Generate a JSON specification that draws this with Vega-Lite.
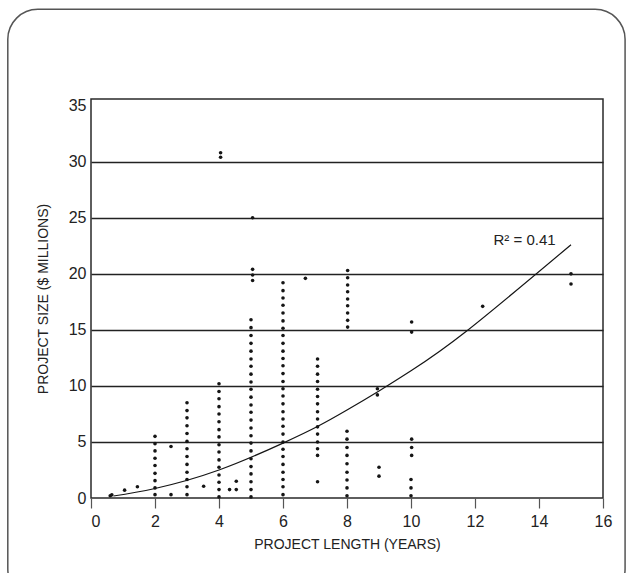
{
  "$schema": "https://vega.github.io/schema/vega-lite/v6.json",
  "width": 512,
  "height": 399,
  "autosize": {"type": "none"},
  "padding": {"left": 91, "top": 99, "right": 30, "bottom": 75},
  "background": "white",
  "config": {
    "view": {"stroke": "#2a2a2a", "strokeWidth": 1.5},
    "font": "Liberation Sans"
  },
  "datasets": {
    "trend": [
      {"x": 0.7, "y": 0.18}, {"x": 2, "y": 0.85}, {"x": 4, "y": 2.5}, {"x": 6, "y": 4.9},
      {"x": 7.09, "y": 6.4}, {"x": 8, "y": 7.85}, {"x": 9, "y": 9.55}, {"x": 10, "y": 11.35},
      {"x": 11.74, "y": 14.9}, {"x": 15, "y": 22.6}
    ]
  },
  "data": {
    "values": [
      {"x": 0.6, "y": 0.2}, {"x": 0.65, "y": 0.28}, {"x": 1.05, "y": 0.7}, {"x": 1.45, "y": 1.0},
      {"x": 2, "y": 5.5}, {"x": 2, "y": 4.85}, {"x": 2, "y": 4.2}, {"x": 2, "y": 3.55}, {"x": 2, "y": 2.9},
      {"x": 2, "y": 2.2}, {"x": 2, "y": 1.55}, {"x": 2, "y": 0.9}, {"x": 2, "y": 0.3},
      {"x": 2.5, "y": 4.6}, {"x": 2.5, "y": 0.3},
      {"x": 3, "y": 8.5}, {"x": 3, "y": 7.8}, {"x": 3, "y": 7.15}, {"x": 3, "y": 6.45}, {"x": 3, "y": 5.75},
      {"x": 3, "y": 5.05}, {"x": 3, "y": 4.4}, {"x": 3, "y": 3.7}, {"x": 3, "y": 3.0}, {"x": 3, "y": 2.3},
      {"x": 3, "y": 1.65}, {"x": 3, "y": 1.0}, {"x": 3, "y": 0.3},
      {"x": 3.52, "y": 1.05},
      {"x": 4, "y": 10.2}, {"x": 4, "y": 9.5}, {"x": 4, "y": 8.85}, {"x": 4, "y": 8.15}, {"x": 4, "y": 7.5},
      {"x": 4, "y": 6.8}, {"x": 4, "y": 6.1}, {"x": 4, "y": 5.45}, {"x": 4, "y": 4.75}, {"x": 4, "y": 4.1},
      {"x": 4, "y": 3.4}, {"x": 4, "y": 2.75}, {"x": 4, "y": 2.05}, {"x": 4, "y": 1.4}, {"x": 4, "y": 0.75},
      {"x": 4, "y": 0.1}, {"x": 4.05, "y": 30.4}, {"x": 4.05, "y": 30.8},
      {"x": 4.33, "y": 0.75}, {"x": 4.54, "y": 0.75}, {"x": 4.54, "y": 1.5},
      {"x": 5, "y": 15.9}, {"x": 5, "y": 15.2}, {"x": 5, "y": 14.5}, {"x": 5, "y": 13.8}, {"x": 5, "y": 13.1},
      {"x": 5, "y": 12.4}, {"x": 5, "y": 11.75}, {"x": 5, "y": 11.05}, {"x": 5, "y": 10.35}, {"x": 5, "y": 9.7},
      {"x": 5, "y": 9.0}, {"x": 5, "y": 8.3}, {"x": 5, "y": 7.65}, {"x": 5, "y": 6.95}, {"x": 5, "y": 6.25},
      {"x": 5, "y": 5.55}, {"x": 5, "y": 4.9}, {"x": 5, "y": 4.2}, {"x": 5, "y": 3.5}, {"x": 5, "y": 2.8},
      {"x": 5, "y": 2.15}, {"x": 5, "y": 1.45}, {"x": 5, "y": 0.75}, {"x": 5, "y": 0.1},
      {"x": 5.05, "y": 19.4}, {"x": 5.05, "y": 19.9}, {"x": 5.05, "y": 20.4}, {"x": 5.05, "y": 25.0},
      {"x": 6, "y": 19.2}, {"x": 6, "y": 18.5}, {"x": 6, "y": 17.85}, {"x": 6, "y": 17.2}, {"x": 6, "y": 16.5},
      {"x": 6, "y": 15.8}, {"x": 6, "y": 15.15}, {"x": 6, "y": 14.5}, {"x": 6, "y": 13.8}, {"x": 6, "y": 13.1},
      {"x": 6, "y": 12.45}, {"x": 6, "y": 11.8}, {"x": 6, "y": 11.1}, {"x": 6, "y": 10.4}, {"x": 6, "y": 9.75},
      {"x": 6, "y": 9.1}, {"x": 6, "y": 8.4}, {"x": 6, "y": 7.7}, {"x": 6, "y": 7.05}, {"x": 6, "y": 6.4},
      {"x": 6, "y": 5.7}, {"x": 6, "y": 5.0}, {"x": 6, "y": 4.35}, {"x": 6, "y": 3.7}, {"x": 6, "y": 3.0},
      {"x": 6, "y": 2.3}, {"x": 6, "y": 1.65}, {"x": 6, "y": 1.0}, {"x": 6, "y": 0.3},
      {"x": 6.7, "y": 19.6},
      {"x": 7.08, "y": 12.4}, {"x": 7.08, "y": 11.75}, {"x": 7.08, "y": 11.05}, {"x": 7.08, "y": 10.4},
      {"x": 7.08, "y": 9.7}, {"x": 7.08, "y": 9.05}, {"x": 7.08, "y": 8.4}, {"x": 7.08, "y": 7.7},
      {"x": 7.08, "y": 7.05}, {"x": 7.08, "y": 6.35}, {"x": 7.08, "y": 5.7}, {"x": 7.08, "y": 5.0},
      {"x": 7.08, "y": 4.4}, {"x": 7.08, "y": 3.8}, {"x": 7.08, "y": 1.45},
      {"x": 8.02, "y": 20.3}, {"x": 8.02, "y": 19.65}, {"x": 8.02, "y": 19.0}, {"x": 8.02, "y": 18.4},
      {"x": 8.02, "y": 17.75}, {"x": 8.02, "y": 17.15}, {"x": 8.02, "y": 16.5}, {"x": 8.02, "y": 15.85},
      {"x": 8.02, "y": 15.25},
      {"x": 8, "y": 5.95}, {"x": 8, "y": 5.25}, {"x": 8, "y": 4.5}, {"x": 8, "y": 3.8}, {"x": 8, "y": 3.05},
      {"x": 8, "y": 2.3}, {"x": 8, "y": 1.6}, {"x": 8, "y": 0.9}, {"x": 8, "y": 0.2},
      {"x": 8.95, "y": 9.75}, {"x": 8.95, "y": 9.2}, {"x": 9, "y": 2.75}, {"x": 9, "y": 1.95},
      {"x": 10.02, "y": 15.7}, {"x": 10.02, "y": 14.8}, {"x": 10.02, "y": 5.25}, {"x": 10.02, "y": 4.5},
      {"x": 10.02, "y": 3.8}, {"x": 10, "y": 1.65}, {"x": 10, "y": 0.9}, {"x": 10, "y": 0.2},
      {"x": 12.24, "y": 17.1},
      {"x": 15, "y": 20.0}, {"x": 15, "y": 19.1}
    ]
  },
  "layer": [
    {
      "data": {"values": [{}]},
      "mark": {"type": "rect", "fillOpacity": 0, "stroke": "#555555", "strokeWidth": 1.5, "cornerRadius": 30},
      "encoding": {
        "x": {"datum": -2.6, "type": "quantitative", "scale": {"domain": [0, 16], "nice": false, "zero": false}},
        "x2": {"datum": 16.69},
        "y": {"datum": 43.6, "type": "quantitative", "scale": {"domain": [0, 35.6], "nice": false, "zero": false}},
        "y2": {"datum": -9}
      }
    },
    {
      "mark": {"type": "circle", "color": "#151515", "size": 13, "opacity": 1},
      "encoding": {
        "x": {
          "field": "x", "type": "quantitative",
          "scale": {"domain": [0, 16], "nice": false, "zero": false},
          "axis": {
            "title": "PROJECT LENGTH (YEARS)",
            "values": [0, 2, 4, 6, 8, 10, 12, 14, 16],
            "grid": false,
            "domain": false,
            "tickSize": 10,
            "tickColor": "#555555",
            "tickWidth": 1.2,
            "labelFlush": false,
            "labelAlign": {"condition": {"test": "datum.value === 0", "value": "left"}, "value": "center"},
            "labelFontSize": 16,
            "labelColor": "#222222",
            "labelPadding": 5,
            "titleFontSize": 14,
            "titleFontWeight": "normal",
            "titleColor": "#222222",
            "titlePadding": 8
          }
        },
        "y": {
          "field": "y", "type": "quantitative",
          "scale": {"domain": [0, 35.6], "nice": false, "zero": false},
          "axis": {
            "title": "PROJECT SIZE ($ MILLIONS)",
            "values": [0, 5, 10, 15, 20, 25, 30, 35],
            "grid": true,
            "gridColor": "#222222",
            "gridWidth": 1.3,
            "gridOpacity": {"condition": {"test": "datum.value >= 35 || datum.value === 0", "value": 0}, "value": 1},
            "domain": false,
            "ticks": false,
            "labelFontSize": 16,
            "labelColor": "#222222",
            "labelPadding": 5,
            "titleFontSize": 14,
            "titleFontWeight": "normal",
            "titleColor": "#222222",
            "titlePadding": 18
          }
        }
      }
    },
    {
      "data": {"name": "trend"},
      "mark": {"type": "line", "color": "#151515", "strokeWidth": 1.2, "interpolate": "natural"},
      "encoding": {
        "x": {"field": "x", "type": "quantitative"},
        "y": {"field": "y", "type": "quantitative"}
      }
    },
    {
      "data": {"values": [{}]},
      "mark": {"type": "text", "text": "R² = 0.41", "fontSize": 15, "color": "#222222", "align": "center", "baseline": "middle"},
      "encoding": {
        "x": {"datum": 13.55, "type": "quantitative"},
        "y": {"datum": 23.0, "type": "quantitative"}
      }
    }
  ]
}
